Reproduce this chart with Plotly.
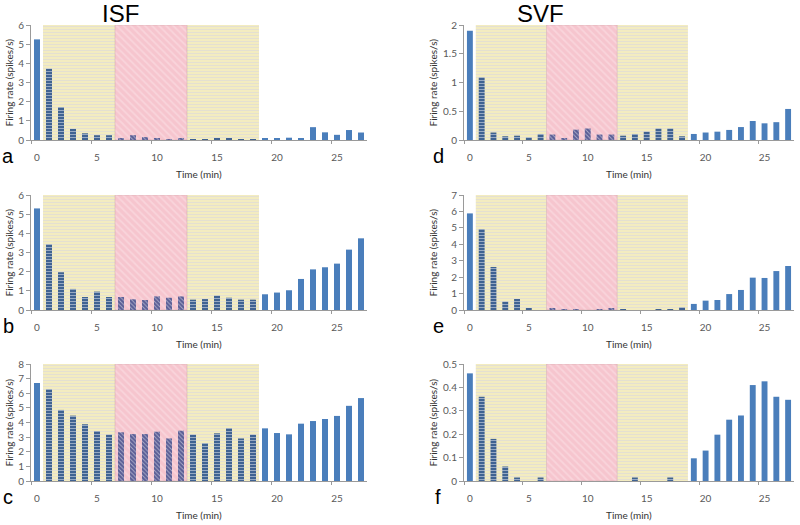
import plotly.graph_objects as go

# Time bins (min)
minutes = list(range(28))

# Firing rates (spikes/s)
isf_a = [5.25, 3.72, 1.72, 0.58, 0.35, 0.25, 0.25, 0.08, 0.25, 0.15, 0.08, 0.05, 0.08, 0.05,
         0.03, 0.08, 0.08, 0.05, 0.03, 0.09, 0.07, 0.12, 0.09, 0.67, 0.40, 0.27, 0.52, 0.39]
isf_b = [5.30, 3.43, 1.97, 1.10, 0.68, 0.96, 0.68, 0.68, 0.56, 0.52, 0.71, 0.64, 0.71, 0.54,
         0.57, 0.75, 0.64, 0.54, 0.54, 0.82, 0.91, 1.03, 1.62, 2.12, 2.23, 2.42, 3.15, 3.74]
isf_c = [6.70, 6.28, 4.86, 4.47, 3.88, 3.42, 3.17, 3.33, 3.21, 3.21, 3.37, 2.91, 3.44, 3.17,
         2.59, 3.26, 3.62, 2.91, 3.17, 3.60, 3.28, 3.19, 3.92, 4.10, 4.24, 4.45, 5.14, 5.67]
svf_d = [1.90, 1.09, 0.13, 0.065, 0.075, 0.045, 0.105, 0.095, 0.03, 0.18, 0.20, 0.095, 0.095, 0.075,
         0.105, 0.145, 0.20, 0.20, 0.065, 0.105, 0.13, 0.145, 0.175, 0.225, 0.33, 0.29, 0.31, 0.54]
svf_e = [5.88, 4.93, 2.62, 0.51, 0.67, 0.08, 0.0, 0.10, 0.04, 0.04, 0.0, 0.02, 0.08, 0.04,
         0.0, 0.0, 0.02, 0.02, 0.16, 0.37, 0.57, 0.61, 0.97, 1.22, 1.97, 1.95, 2.37, 2.68]
svf_f = [0.46, 0.36, 0.18, 0.062, 0.015, 0.0, 0.015, 0.0, 0.0, 0.0, 0.0, 0.0, 0.0, 0.0,
         0.015, 0.0, 0.0, 0.015, 0.0, 0.097, 0.13, 0.198, 0.262, 0.28, 0.41, 0.426, 0.36, 0.347]

# Panels: (letter, data, y max, y tick step)
panels = [
    ("a", isf_a, 6, 1), ("d", svf_d, 2, 0.5),
    ("b", isf_b, 6, 1), ("e", svf_e, 7, 1),
    ("c", isf_c, 8, 1), ("f", svf_f, 0.5, 0.1),
]

# Stimulation phases (min)
yellow_phases = [(0.5, 6.5), (12.5, 18.5)]
pink_phases = [(6.5, 12.5)]

W, H = 800, 525


def px_x(p):
    return p / W


def px_y(p):
    return 1 - p / H


col_px = [(31, 367), (464, 794)]
row_px = [(25, 140), (195, 310), (364, 481)]  # top, bottom in pixels

BLUE = "#4a7ebb"
GREY = "#595959"
FONT = "Lato, Liberation Sans, Arial"


def phase_of(t):
    if any(a < t < b for a, b in pink_phases):
        return "pink"
    if any(a < t < b for a, b in yellow_phases):
        return "yellow"
    return None


# bar styling depending on the phase shading behind them
bar_color, bar_shape, bar_fg = [], [], []
for t in minutes:
    p = phase_of(t)
    if p == "yellow":
        bar_color.append("#3f6292"); bar_shape.append("-"); bar_fg.append("#9fa196")
    elif p == "pink":
        bar_color.append("#5a5d95"); bar_shape.append("\\"); bar_fg.append("#9a88a6")
    else:
        bar_color.append(BLUE); bar_shape.append(""); bar_fg.append(BLUE)


def label(fig, x, y, text, size, color="#333333", family=FONT, angle=0):
    fig.add_annotation(x=px_x(x), y=px_y(y), xref="paper", yref="paper", text=text, textangle=angle,
                       xanchor="center", yanchor="middle", showarrow=False,
                       font=dict(size=size, color=color, family=family))


fig = go.Figure()

for i, (letter, vals, ymax, step) in enumerate(panels):
    r, c = divmod(i, 2)
    n = i + 1
    xa = "x" if n == 1 else f"x{n}"
    ya = "y" if n == 1 else f"y{n}"

    # phase shading (bars so they stay behind the data bars)
    fig.add_trace(go.Bar(
        x=[(a + b) / 2 for a, b in yellow_phases], y=[ymax] * len(yellow_phases),
        width=[b - a for a, b in yellow_phases],
        marker=dict(color="#f5edbc", line_width=0,
                    pattern=dict(shape="-", bgcolor="#f5edbc", fgcolor="#d3d3e6", size=3, solidity=0.45)),
        xaxis=xa, yaxis=ya, showlegend=False, hoverinfo="skip"))
    fig.add_trace(go.Bar(
        x=[(a + b) / 2 for a, b in pink_phases], y=[ymax] * len(pink_phases),
        width=[b - a for a, b in pink_phases],
        marker=dict(color="#f6c5ce", line=dict(width=0.6, color="rgba(190,150,150,0.6)"),
                    pattern=dict(shape="\\", bgcolor="#f6c5ce", fgcolor="#fbe3e7", size=5, solidity=0.35)),
        xaxis=xa, yaxis=ya, showlegend=False, hoverinfo="skip"))

    fig.add_trace(go.Bar(x=minutes, y=vals, width=0.5,
                         marker=dict(color=bar_color, line_width=0,
                                     pattern=dict(shape=bar_shape, fgcolor=bar_fg, size=3, solidity=0.3)),
                         xaxis=xa, yaxis=ya, showlegend=False))

    top, bot = row_px[r]
    left, right = col_px[c]
    xkey = "xaxis" if n == 1 else f"xaxis{n}"
    ykey = "yaxis" if n == 1 else f"yaxis{n}"
    fig.update_layout(**{
        xkey: dict(domain=(px_x(left), px_x(right)), anchor=ya, range=[-0.5, 27.5],
                   tickvals=[0, 5, 10, 15, 20, 25], ticks="", showgrid=False, zeroline=False,
                   showline=True, linecolor="#9a9a9a", linewidth=1,
                   tickfont=dict(size=10, color=GREY, family=FONT), ticklabelstandoff=8, automargin=False,
                   minor=dict(tick0=-0.5, dtick=5, ticks="outside", ticklen=3, tickcolor="#9a9a9a")),
        ykey: dict(domain=(px_y(bot), px_y(top)), anchor=xa, range=[0, ymax], dtick=step, showgrid=False,
                   zeroline=False, showline=True, linecolor="#9a9a9a", linewidth=1, ticks="outside",
                   ticklen=4, tickcolor="#9a9a9a", tickfont=dict(size=10, color=GREY, family=FONT),
                   automargin=False),
    })

    # axis titles and panel letter
    label(fig, (left + right) / 2, bot + 34, "Time (min)", 10)
    label(fig, 8 if c == 0 else 432, (top + bot) / 2, "Firing rate (spikes/s)", 10, angle=-90)
    label(fig, 8 if c == 0 else 438, bot + 16, letter, 20, color="black", family="Liberation Sans, Arial")

label(fig, 120, 13, "ISF", 24, color="black", family="Liberation Sans, Arial")
label(fig, 540, 13, "SVF", 24, color="black", family="Liberation Sans, Arial")

fig.update_layout(width=W, height=H, margin=dict(l=0, r=0, t=0, b=0, autoexpand=False),
                  barmode="overlay", plot_bgcolor="white", paper_bgcolor="white")

# drop the default page margin so the figure starts at the window corner
fig.write_html("out.html", config={"displayModeBar": False},
               post_script="document.body.style.margin = '0';")
